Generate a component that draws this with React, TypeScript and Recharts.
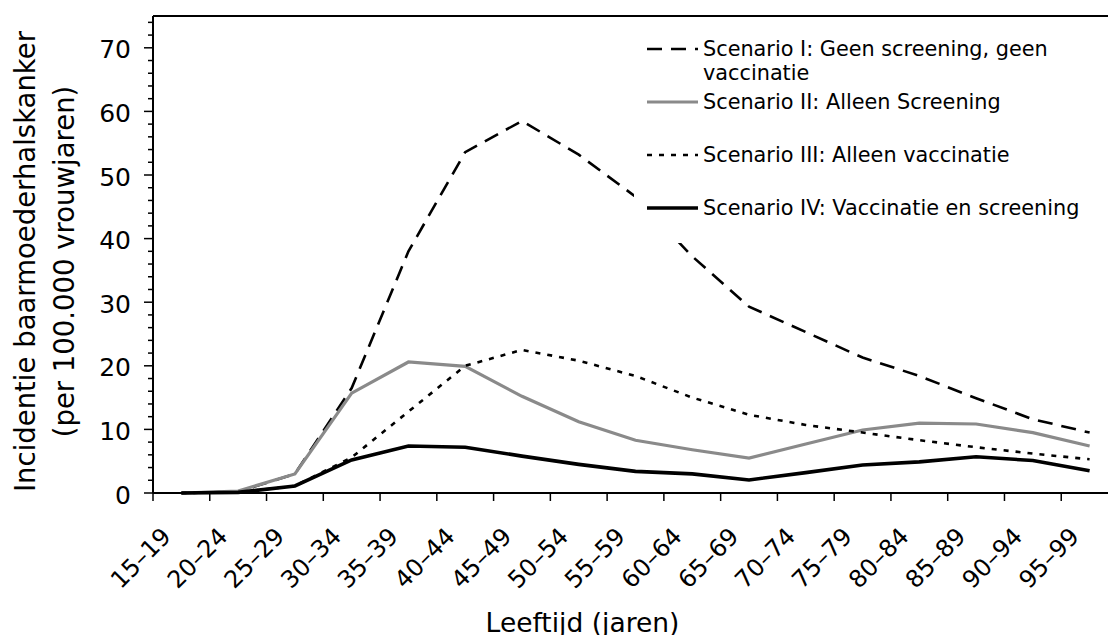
import React from 'react';
import { LineChart, Line, XAxis, YAxis, Legend, ReferenceLine } from 'recharts';

const FONT = '"DejaVu Sans", Verdana, sans-serif';

// age groups on the x axis
const categories = [
  '15–19', '20–24', '25–29', '30–34', '35–39', '40–44', '45–49', '50–54', '55–59',
  '60–64', '65–69', '70–74', '75–79', '80–84', '85–89', '90–94', '95–99',
];

// incidence per 100.000 woman-years
const scenarioI = [0, 0.2, 3, 16.5, 38, 53.6, 58.5, 53.2, 46.6, 37.2, 29.3, 25.3, 21.3, 18.4, 14.9, 11.6, 9.5];
const scenarioII = [0, 0.3, 3, 15.7, 20.6, 19.9, 15.2, 11.2, 8.3, 6.8, 5.5, 7.7, 9.9, 11, 10.85, 9.5, 7.4];
const scenarioIII = [0, 0.1, 1.1, 5.6, 12.8, 20, 22.5, 20.8, 18.4, 15, 12.3, 10.7, 9.5, 8.3, 7.2, 6.2, 5.3];
const scenarioIV = [0, 0.1, 1.1, 5.2, 7.4, 7.2, 5.8, 4.5, 3.4, 3, 2.05, 3.2, 4.4, 4.9, 5.7, 5.1, 3.5];

const seriesNames = [
  'Scenario I: Geen screening, geen vaccinatie',
  'Scenario II: Alleen Screening',
  'Scenario III: Alleen vaccinatie',
  'Scenario IV: Vaccinatie en screening',
];

const yTicks = Array.from({ length: 38 }, (_, i) => i * 2); // 0..74, labels every 10

const data = categories.map((age, i) => ({
  age,
  s1: scenarioI[i],
  s2: scenarioII[i],
  s3: scenarioIII[i],
  s4: scenarioIV[i],
}));

const lineStyles = [
  { key: 's1', stroke: '#000', width: 2.6, dash: '15 9' },
  { key: 's2', stroke: '#8a8a8a', width: 3.2, dash: undefined },
  { key: 's3', stroke: '#000', width: 2.6, dash: '5 7' },
  { key: 's4', stroke: '#000', width: 3.6, dash: undefined },
];

const XTick = (props: any) => {
  const { x, y, payload } = props;
  const half = payload.offset ?? 0;
  const ax = x - 9;
  const ay = y + 45;
  return (
    <g>
      <line x1={x - half} x2={x - half} y1={y} y2={y + 8} stroke="#000" strokeWidth={1.5} />
      <text
        x={ax}
        y={ay}
        textAnchor="end"
        transform={`rotate(-45, ${ax}, ${ay})`}
        fontFamily={FONT}
        fontSize={24}
        fill="#000"
      >
        {payload.value}
      </text>
    </g>
  );
};

const YTick = (props: any) => {
  const { x, y, payload } = props;
  const major = payload.value % 10 === 0;
  return (
    <g>
      <line x1={x - (major ? 9 : 5)} x2={x} y1={y} y2={y} stroke="#000" strokeWidth={1.5} />
      {major && (
        <text x={x - 22} y={y} dy={10.5} textAnchor="end" fontFamily={FONT} fontSize={25} fill="#000">
          {payload.value}
        </text>
      )}
    </g>
  );
};

const YTitle = (props: any) => {
  const vb = props.viewBox || { x: 0, y: 8, width: 145, height: 477 };
  const cy = vb.y + vb.height / 2 + 7;
  const lines = ['Incidentie baarmoederhalskanker', '(per 100.000 vrouwjaren)'];
  const bases = [27, 66];
  return (
    <g>
      {lines.map((t, i) => (
        <text
          key={t}
          x={bases[i]}
          y={cy}
          textAnchor="middle"
          transform={`rotate(-90, ${bases[i]}, ${cy})`}
          fontFamily={FONT}
          fontSize={27.5}
          fill="#000"
        >
          {t}
        </text>
      ))}
    </g>
  );
};

const LegendBox = () => (
  <div
    style={{
      background: '#fff',
      width: 466,
      height: 219,
      boxSizing: 'border-box',
      paddingTop: 13,
      fontFamily: FONT,
      fontSize: 20.8,
      lineHeight: '24px',
      color: '#000',
    }}
  >
    {seriesNames.map((name, i) => {
      const st = lineStyles[i];
      return (
        <div key={name} style={{ display: 'flex', height: 53 }}>
          <svg width={69} height={24} style={{ flex: 'none' }}>
            <line
              x1={13}
              x2={64}
              y1={12}
              y2={12}
              stroke={st.stroke}
              strokeWidth={st.width}
              strokeDasharray={st.dash}
            />
          </svg>
          <div style={{ width: 390 }}>{name}</div>
        </div>
      );
    })}
  </div>
);

export default function App() {
  return (
    <div
      style={{
        position: 'fixed',
        left: 0,
        top: 0,
        width: 1108,
        height: 635,
        overflow: 'hidden',
        background: '#fff',
      }}
    >
      <div style={{ position: 'absolute', left: 8, top: 8 }}>
        <LineChart width={1110} height={627} data={data} margin={{ top: 8, right: 0, bottom: 0, left: 0 }}>
          <XAxis
            dataKey="age"
            scale="band"
            height={142}
            interval={0}
            tickSize={0}
            tickMargin={0}
            tickLine={false}
            tick={<XTick />}
            axisLine={{ stroke: '#000', strokeWidth: 2 }}
            label={{
              value: 'Leeftijd (jaren)',
              position: 'insideBottom',
              offset: 3,
              dx: -53,
              style: { fontFamily: FONT, fontSize: 26.5, fill: '#000' },
            }}
          />
          <YAxis
            type="number"
            domain={[0, 75]}
            ticks={yTicks}
            interval={0}
            width={145}
            tickSize={0}
            tickMargin={0}
            tickLine={false}
            tick={<YTick />}
            axisLine={{ stroke: '#000', strokeWidth: 2 }}
            label={<YTitle />}
          />
          <ReferenceLine y={75} stroke="#000" strokeWidth={2} />
          <Legend
            layout="vertical"
            align="center"
            verticalAlign="middle"
            wrapperStyle={{ left: 626, top: 16, width: 466, height: 219 }}
            content={<LegendBox />}
          />
          {lineStyles.map((st) => (
            <Line
              key={st.key}
              type="linear"
              dataKey={st.key}
              stroke={st.stroke}
              strokeWidth={st.width}
              strokeDasharray={st.dash}
              dot={false}
              activeDot={false}
              isAnimationActive={false}
            />
          ))}
        </LineChart>
      </div>
    </div>
  );
}
